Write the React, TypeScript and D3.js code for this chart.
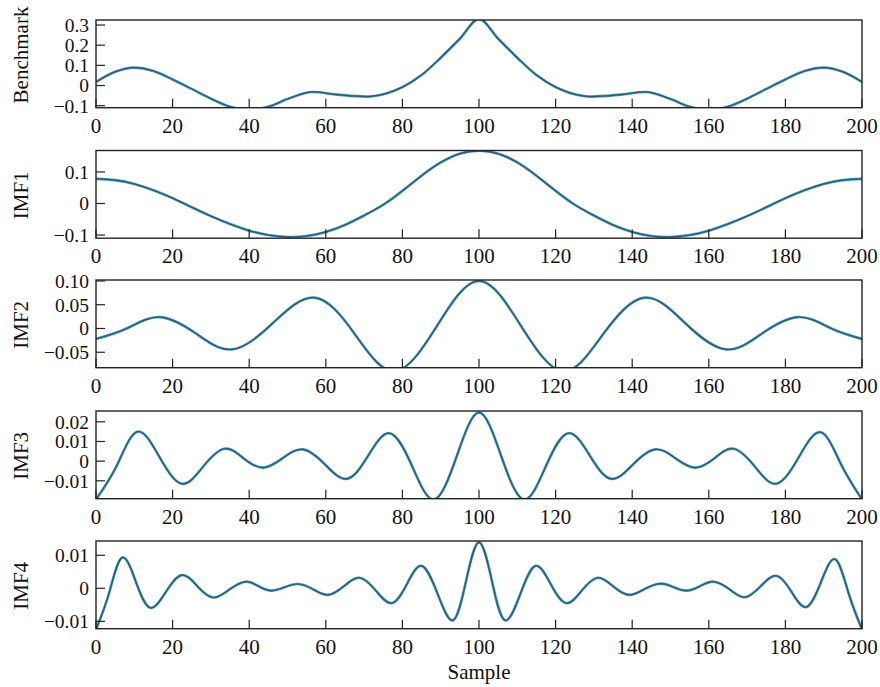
import React from 'react';
import * as d3 from 'd3';

// sample positions and values
const benchmark: [number, number][] = [
  [0, 0.018], [5, 0.068], [10, 0.089], [15, 0.072], [20, 0.03], [25, -0.017],
  [30, -0.065], [35, -0.105], [40, -0.12], [45, -0.105], [50, -0.067], [56.5, -0.032],
  [63, -0.045], [70.5, -0.055], [76, -0.038], [80, -0.008], [85, 0.052], [90, 0.138],
  [95, 0.232], [100, 0.33], [105, 0.232], [110, 0.138], [115, 0.052], [120, -0.008],
  [124, -0.038], [129.5, -0.055], [137, -0.045], [143.5, -0.032], [150, -0.067], [155, -0.105],
  [160, -0.12], [165, -0.105], [170, -0.065], [175, -0.017], [180, 0.03], [185, 0.072],
  [190, 0.089], [195, 0.068], [200, 0.018],
];

const imf1: [number, number][] = [
  [0, 0.078], [5, 0.074], [10, 0.062], [15, 0.042], [20, 0.017], [25, -0.012],
  [30, -0.04], [35, -0.065], [40, -0.086], [45, -0.1], [50, -0.106], [55, -0.103],
  [60, -0.09], [65, -0.068], [70, -0.038], [75, -0.004], [80, 0.04], [85, 0.088],
  [90, 0.13], [95, 0.158], [100, 0.167], [105, 0.158], [110, 0.13], [115, 0.088],
  [120, 0.04], [125, -0.004], [130, -0.038], [135, -0.068], [140, -0.09], [145, -0.103],
  [150, -0.106], [155, -0.1], [160, -0.086], [165, -0.065], [170, -0.04], [175, -0.012],
  [180, 0.017], [185, 0.042], [190, 0.062], [195, 0.074], [200, 0.078],
];

const imf2: [number, number][] = [
  [0, -0.022], [8, 0.0], [16.6, 0.024], [26, -0.01], [35.5, -0.044], [46, 0.01],
  [57, 0.065], [67.5, -0.011], [78, -0.09], [89, 0.005], [100, 0.1], [111, 0.005],
  [122, -0.09], [132.5, -0.011], [143.3, 0.065], [154, 0.01], [164.5, -0.044], [174, -0.01],
  [183.4, 0.024], [192, 0.0], [200, -0.022],
];

const imf3: [number, number][] = [
  [0, -0.0195], [5.5, -0.002], [10.8, 0.015], [16.6, 0.002], [22.4, -0.0115], [28, -0.0027],
  [33.5, 0.0063], [38.5, 0.0015], [43.5, -0.0033], [48.6, 0.0013], [54, 0.006], [59.7, -0.0015],
  [65.5, -0.009], [71, 0.0026], [76.7, 0.0142], [82.5, -0.0024], [88.3, -0.0195], [94.2, 0.0026],
  [100, 0.0247], [105.8, 0.0026], [111.7, -0.0195], [117.5, -0.0024], [123.3, 0.0142], [129, 0.0026],
  [134.5, -0.009], [140.3, -0.0015], [146, 0.006], [151.4, 0.0013], [156.5, -0.0033], [161.5, 0.0015],
  [166.5, 0.0063], [172, -0.0027], [177.6, -0.0115], [183.4, 0.0017], [189.2, 0.0147], [194.5, -0.0015],
  [200, -0.0195],
];

const imf4: [number, number][] = [
  [0, -0.0125], [3.4, -0.0015], [6.8, 0.0093], [10.5, 0.0017], [14.2, -0.0059], [18.3, -0.001],
  [22.4, 0.004], [26.5, 0.0006], [30.6, -0.0028], [34.8, -0.0004], [39, 0.002], [42.3, 0.0007],
  [45.6, -0.0007], [49.2, 0.0003], [52.8, 0.0013], [56.7, -0.0003], [60.6, -0.002], [64.7, 0.0006],
  [68.8, 0.0032], [73, -0.0006], [77.2, -0.0045], [81.1, 0.0011], [85, 0.0068], [89.1, -0.0014],
  [93.2, -0.0097], [96.6, 0.0021], [100, 0.0139], [103.4, 0.0021], [106.8, -0.0097], [110.9, -0.0014],
  [114.8, 0.0068], [118.8, 0.0011], [122.8, -0.0045], [126.9, -0.0006], [131, 0.0032], [135, 0.0006],
  [139.1, -0.002], [143.1, -0.0003], [147.2, 0.0014], [150.7, 0.0004], [154.2, -0.0007], [157.8, 0.0007],
  [161.3, 0.002], [165.4, -0.0003], [169.4, -0.0027], [173.5, 0.0006], [177.6, 0.0038], [181.5, -0.0009],
  [185.4, -0.0057], [189.2, 0.0016], [193, 0.0088], [196.5, -0.0015], [200, -0.0125],
];

const xTicks = [0, 20, 40, 60, 80, 100, 120, 140, 160, 180, 200];

const benchTicks = [0.3, 0.2, 0.1, 0, -0.1];
const imf1Ticks = [0.1, 0, -0.1];
const imf2Ticks = [0.1, 0.05, 0, -0.05];
const imf3Ticks = [0.02, 0.01, 0, -0.01];
const imf4Ticks = [0.01, 0, -0.01];

const panels = [
  { name: 'Benchmark', data: benchmark, ticks: benchTicks, fmt: '.1f', domain: [-0.11, 0.325], top: 20, labelY: 55, curve: d3.curveMonotoneX },
  { name: 'IMF1', data: imf1, ticks: imf1Ticks, fmt: '.1f', domain: [-0.11, 0.168], top: 150.5, labelY: 0, curve: d3.curveNatural },
  { name: 'IMF2', data: imf2, ticks: imf2Ticks, fmt: '.2f', domain: [-0.0825, 0.102], top: 280, labelY: 0, curve: d3.curveNatural },
  { name: 'IMF3', data: imf3, ticks: imf3Ticks, fmt: '.2f', domain: [-0.0191, 0.0255], top: 411, labelY: 0, curve: d3.curveNatural },
  { name: 'IMF4', data: imf4, ticks: imf4Ticks, fmt: '.2f', domain: [-0.01224, 0.01433], top: 541, labelY: 0, curve: d3.curveNatural },
];

const W = 880, H = 687;
const left = 96, right = 862, ph = 87.7;
const font = '"Liberation Serif", "Times New Roman", serif';

function tickText(v: number, fmt: string) {
  if (v === 0) return '0';
  const s = d3.format(fmt)(Math.abs(v));
  return (v < 0 ? '\u2212' : '') + s;
}

function Panel({ p, i }: { p: typeof panels[number]; i: number }) {
  const x = d3.scaleLinear().domain([0, 200]).range([left, right]);
  const y = d3.scaleLinear().domain(p.domain).range([p.top + ph, p.top]);
  const line = d3.line<[number, number]>().x(d => x(d[0])).y(d => y(d[1])).curve(p.curve);
  const path = line(p.data) || '';
  const bottom = p.top + ph;
  const labelY = p.labelY || p.top + ph / 2 + 1;
  return (
    <g>
      <defs>
        <clipPath id={'clip' + i}>
          <rect x={left} y={p.top} width={right - left} height={ph} />
        </clipPath>
      </defs>
      <g clipPath={`url(#clip${i})`}>
        <path d={path} fill="none" stroke="#3f95c2" strokeWidth={2.6} />
        <path d={path} fill="none" stroke="#31596a" strokeWidth={1.2} />
      </g>
      <rect x={left} y={p.top} width={right - left} height={ph} fill="none" stroke="#222" strokeWidth={1.4} />
      {xTicks.map(t => (
        <g key={'x' + t}>
          <line x1={x(t)} x2={x(t)} y1={bottom} y2={bottom - 9} stroke="#222" strokeWidth={1.2} />
          <text x={x(t)} y={bottom + 25} textAnchor="middle" fontSize={21} fontFamily={font} fill="#111">{t}</text>
        </g>
      ))}
      {p.ticks.map(t => (
        <g key={'y' + t}>
          <line x1={left} x2={left + 9} y1={y(t)} y2={y(t)} stroke="#222" strokeWidth={1.2} />
          <text x={89} y={y(t)} dy="0.35em" textAnchor="end" fontSize={19.5} fontFamily={font} fill="#111">{tickText(t, p.fmt)}</text>
        </g>
      ))}
      <text transform={`translate(28,${labelY}) rotate(-90)`} textAnchor="middle" fontSize={21} fontFamily={font} fill="#111">{p.name}</text>
    </g>
  );
}

export default function App() {
  return (
    <svg width={W} height={H} style={{ position: 'absolute', left: 0, top: 0, background: '#fff' }}>
      {panels.map((p, i) => <Panel key={p.name} p={p} i={i} />)}
      <text x={(left + right) / 2} y={679} textAnchor="middle" fontSize={21} fontFamily={font} fill="#111">Sample</text>
    </svg>
  );
}
